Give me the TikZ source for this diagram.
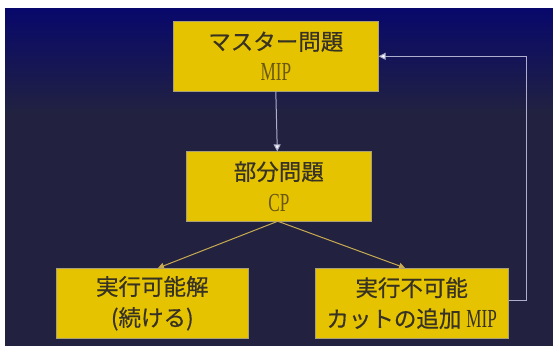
\documentclass[tikz,border=0pt]{standalone}
\usepackage{fontspec}
\usepackage{graphicx}
\newfontfamily\jpf[FakeBold=0.5]{Noto Sans CJK JP}
\newfontfamily\mipf{Liberation Serif}
\usetikzlibrary{arrows.meta,calc}
\definecolor{bgtop}{RGB}{8,8,108}
\definecolor{bgmain}{RGB}{34,34,64}
\definecolor{boxfill}{RGB}{229,195,0}
\definecolor{boxline}{RGB}{170,160,120}
\definecolor{txt}{RGB}{55,50,36}
\definecolor{miptxt}{RGB}{105,88,18}
\definecolor{grayline}{RGB}{175,175,205}
\definecolor{orangeline}{RGB}{200,170,80}
\newcommand{\mipt}[1]{{\mipf\fontsize{26}{26}\selectfont\scalebox{0.66}[1]{#1}}}
\tikzset{
  box/.style={draw=boxline, line width=0.6pt, fill=boxfill, inner sep=0pt, align=center,
    text=txt, font=\jpf\fontsize{22.5}{31}\selectfont},
  grayarrow/.style={draw=grayline, line width=1pt, -{Triangle[length=7pt,width=7pt,fill=white!90!grayline]}},
  orangearrow/.style={draw=orangeline, line width=1pt, -{Triangle[length=6pt,width=6pt]}}
}
\begin{document}
\begin{tikzpicture}[x=1pt,y=-1pt]
\useasboundingbox (0,0) rectangle (553,349);
\fill[white] (0,0) rectangle (553,349);
\fill[bgmain] (5,8) rectangle (553,346);
\shade[top color=bgtop, bottom color=bgmain] (5,8) rectangle (553,115);
\node[box, minimum width=205pt, minimum height=69.3pt] (m) at (275.8,56.3) {マスター問題\\ \textcolor{miptxt}{\mipt{MIP}}};
\node[box, minimum width=185.7pt, minimum height=69.3pt] (s) at (278.8,186.3) {部分問題\\ \textcolor{miptxt}{\mipt{CP}}};
\node[box, minimum width=192.7pt, minimum height=70pt] (f) at (152.3,303.3) {実行可能解\\ (続ける)};
\node[box, minimum width=193.3pt, minimum height=70pt] (i) at (411.7,303.2) {実行不可能\\ カットの追加 \mipt{MIP}};
\draw[grayarrow] (m.south) -- ($(s.north)+(-1.5,0)$);
\draw[orangearrow] ($(s.south)+(-1,0)$) -- ($(f.north)+(5.7,0)$);
\draw[orangearrow] ($(s.south)+(-1,0)$) -- ($(i.north)+(-6.7,0)$);
\draw[grayarrow] ($(i.east)+(0,-2.5)$) -- ++(17.4,0) |- (m.east);
\end{tikzpicture}
\end{document}
